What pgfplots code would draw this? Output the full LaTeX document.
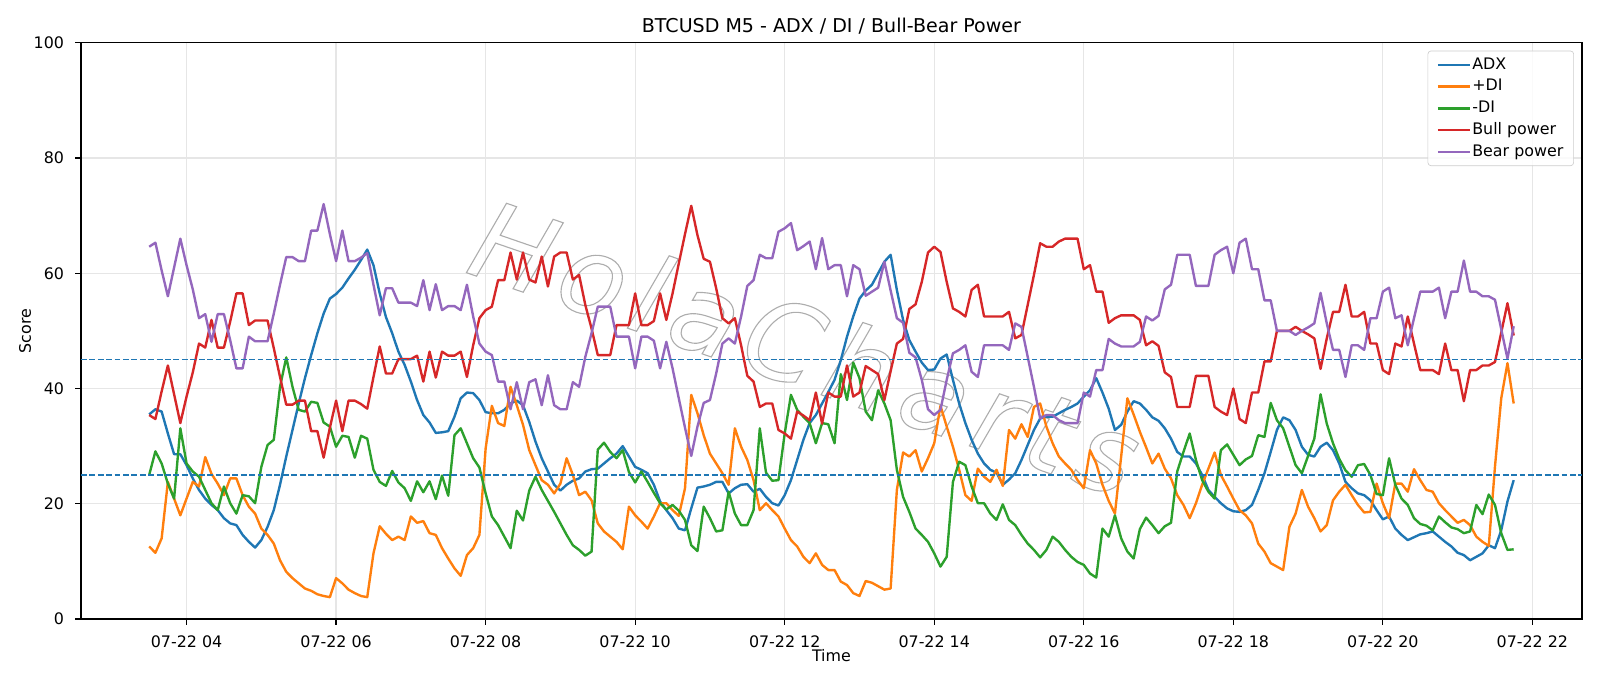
\documentclass[border=0pt]{standalone}
\usepackage{fontspec}
\setmainfont{DejaVu Sans}
\usepackage{pgfplots}
\usepackage{pgfplotstable}
\pgfplotsset{compat=1.18}

\definecolor{tabblue}{HTML}{1F77B4}
\definecolor{taborange}{HTML}{FF7F0E}
\definecolor{tabgreen}{HTML}{2CA02C}
\definecolor{tabred}{HTML}{D62728}
\definecolor{tabpurple}{HTML}{9467BD}
\definecolor{gridc}{HTML}{E6E6E6}

% outlined (stroked) glyphs for the watermark
\newcommand{\outlinetext}[1]{\special{pdf:literal direct 1 Tr 0.7 w}#1\special{pdf:literal direct 0 Tr}}

% 5-minute bars from 07-22 03:30 (index 0) to 21:45 (index 219)
\pgfplotstableread{
i adx pdi mdi bull bear
0 35.5 12.6 25.0 35.4 64.6
1 36.4 11.5 29.1 34.7 65.3
2 36.0 14.0 27.0 39.5 60.5
3 32.2 23.8 23.5 44.0 56.0
4 28.6 20.9 20.9 39.0 61.0
5 28.6 18.0 33.1 34.0 66.0
6 26.7 20.9 27.0 38.6 61.4
7 24.4 23.8 25.6 42.8 57.2
8 22.4 23.0 24.7 47.8 52.2
9 20.9 28.1 22.4 47.1 52.9
10 19.8 25.2 20.1 51.9 48.1
11 18.9 23.5 18.9 47.1 52.9
12 17.5 21.5 23.0 47.1 52.9
13 16.6 24.4 20.1 51.6 48.4
14 16.3 24.4 18.3 56.5 43.5
15 14.6 21.5 21.5 56.5 43.5
16 13.4 19.5 21.3 51.0 49.0
17 12.4 18.3 20.1 51.8 48.2
18 13.7 15.7 26.4 51.8 48.2
19 16.0 14.6 30.2 51.8 48.2
20 18.9 13.1 31.1 47.0 53.0
21 23.3 10.2 40.3 42.0 58.0
22 28.2 8.2 45.4 37.2 62.8
23 32.8 7.1 40.3 37.2 62.8
24 37.4 6.2 36.3 37.9 62.1
25 41.8 5.3 36.0 37.9 62.1
26 45.8 4.9 37.7 32.6 67.4
27 49.6 4.3 37.5 32.6 67.4
28 53.0 4.0 34.1 28.0 72.0
29 55.6 3.8 33.4 33.2 66.8
30 56.4 7.1 29.9 37.9 62.1
31 57.5 6.2 31.8 32.6 67.4
32 59.1 5.1 31.6 37.9 62.1
33 60.6 4.5 28.0 37.9 62.1
34 62.3 4.0 31.8 37.3 62.7
35 64.1 3.8 31.3 36.5 63.5
36 61.4 11.4 25.9 42.0 58.0
37 56.5 16.1 23.8 47.3 52.7
38 52.4 14.8 23.1 42.6 57.4
39 49.6 13.7 25.7 42.6 57.4
40 46.4 14.3 23.7 45.1 54.9
41 44.1 13.7 22.7 45.1 54.9
42 41.2 17.8 20.5 45.1 54.9
43 38.0 16.7 23.9 45.7 54.3
44 35.4 17.0 22.0 41.2 58.8
45 34.1 14.9 23.9 46.4 53.6
46 32.3 14.6 20.8 41.9 58.1
47 32.4 12.3 24.9 46.4 53.6
48 32.6 10.5 21.4 45.7 54.3
49 35.1 8.8 31.9 45.7 54.3
50 38.3 7.5 33.1 46.4 53.6
51 39.3 11.1 30.5 42.0 58.0
52 39.2 12.3 27.9 47.5 52.5
53 38.0 14.6 26.3 52.2 47.8
54 35.9 29.6 21.8 53.6 46.4
55 35.7 37.0 17.8 54.2 45.8
56 35.7 34.0 16.3 58.8 41.2
57 36.3 33.5 14.3 58.8 41.2
58 37.4 40.3 12.3 63.6 36.4
59 37.9 37.1 18.8 58.9 41.1
60 37.1 33.7 17.1 63.6 36.4
61 34.2 29.3 22.3 58.9 41.1
62 30.8 26.7 24.7 58.4 41.6
63 27.9 24.1 22.4 62.9 37.1
64 25.6 23.3 20.5 57.7 42.3
65 23.3 21.8 18.6 62.9 37.1
66 22.3 23.5 16.6 63.6 36.4
67 23.3 27.9 14.6 63.6 36.4
68 24.0 25.0 12.8 58.9 41.1
69 24.4 21.5 12.0 59.7 40.3
70 25.6 22.1 11.0 54.5 45.5
71 26.0 20.6 11.7 50.4 49.6
72 26.1 16.6 29.4 45.8 54.2
73 27.0 15.2 30.6 45.8 54.2
74 27.9 14.3 29.0 45.8 54.2
75 28.7 13.4 27.9 51.0 49.0
76 30.0 12.1 29.3 51.0 49.0
77 28.2 19.5 25.5 51.0 49.0
78 26.4 18.0 23.7 56.5 43.5
79 25.9 16.9 25.6 51.0 49.0
80 25.3 15.7 23.8 51.0 49.0
81 23.3 17.8 21.9 51.7 48.3
82 20.4 20.1 20.1 56.5 43.5
83 18.9 20.1 19.0 51.9 48.1
84 17.5 18.9 19.8 56.5 43.5
85 15.7 17.9 18.8 61.7 38.3
86 15.4 22.7 17.2 66.8 33.2
87 19.2 38.9 12.8 71.7 28.3
88 22.8 35.7 11.8 66.6 33.4
89 23.0 31.9 19.5 62.5 37.5
90 23.3 28.7 17.5 62.0 38.0
91 23.8 27.0 15.2 57.4 42.6
92 23.8 25.3 15.4 52.2 47.8
93 21.8 23.3 22.1 51.3 48.7
94 22.7 33.1 18.3 52.2 47.8
95 23.3 29.9 16.3 47.5 52.5
96 23.4 27.6 16.3 42.2 57.8
97 22.1 24.1 18.9 41.2 58.8
98 22.6 18.9 33.1 36.8 63.2
99 21.2 20.1 25.4 37.4 62.6
100 20.1 18.9 24.0 37.4 62.6
101 19.7 17.8 24.1 32.8 67.2
102 21.5 15.7 32.2 32.2 67.8
103 24.1 13.7 38.9 31.3 68.7
104 27.6 12.6 36.3 36.0 64.0
105 31.1 10.8 35.1 35.3 64.7
106 34.0 9.7 34.0 34.5 65.5
107 35.4 11.4 30.5 39.3 60.7
108 37.4 9.4 34.0 33.9 66.1
109 39.4 8.5 33.8 39.3 60.7
110 41.5 8.5 30.5 38.6 61.4
111 44.9 6.5 42.5 38.6 61.4
112 49.0 5.9 38.0 44.0 56.0
113 52.5 4.5 44.5 38.6 61.4
114 55.6 4.0 41.8 39.3 60.7
115 57.0 6.6 36.0 43.9 56.1
116 58.0 6.3 34.5 43.2 56.8
117 60.0 5.7 39.7 42.5 57.5
118 62.0 5.1 37.4 38.0 62.0
119 63.2 5.3 34.5 43.0 57.0
120 57.1 22.4 25.9 47.8 52.2
121 51.9 28.9 21.2 48.6 51.4
122 48.4 28.2 18.6 53.8 46.2
123 46.4 29.3 15.7 54.6 45.4
124 44.5 25.6 14.6 58.5 41.5
125 43.2 27.9 13.4 63.6 36.4
126 43.3 30.5 11.4 64.6 35.4
127 45.2 37.0 9.1 63.7 36.3
128 45.9 33.4 10.8 58.5 41.5
129 41.5 29.9 23.8 53.9 46.1
130 37.4 25.9 27.3 53.3 46.7
131 34.0 21.5 26.7 52.5 47.5
132 31.1 20.5 23.0 57.1 42.9
133 28.7 26.1 20.1 58.0 42.0
134 27.0 24.7 20.1 52.5 47.5
135 25.9 23.8 18.3 52.5 47.5
136 25.4 25.9 17.2 52.5 47.5
137 23.3 23.1 19.9 52.5 47.5
138 24.2 32.8 17.2 53.3 46.7
139 25.3 31.3 16.3 48.7 51.3
140 27.6 33.8 14.6 49.3 50.7
141 30.2 31.6 13.1 54.5 45.5
142 32.8 36.8 12.0 59.7 40.3
143 34.8 37.4 10.7 65.2 34.8
144 35.1 33.4 12.0 64.6 35.4
145 35.1 30.5 14.3 64.6 35.4
146 35.7 28.2 13.4 65.5 34.5
147 36.3 27.0 12.0 66.0 34.0
148 36.8 25.9 10.8 66.0 34.0
149 37.4 24.1 9.9 66.0 34.0
150 38.6 22.7 9.4 60.7 39.3
151 39.7 29.3 7.9 61.4 38.6
152 41.8 27.0 7.2 56.8 43.2
153 39.3 23.3 15.7 56.8 43.2
154 36.5 20.5 14.3 51.4 48.6
155 32.8 18.3 18.0 52.2 47.8
156 33.7 28.2 14.0 52.7 47.3
157 36.0 38.3 11.7 52.7 47.3
158 37.8 35.5 10.5 52.7 47.3
159 37.4 32.5 15.6 51.9 48.1
160 36.3 29.8 17.6 47.5 52.5
161 35.0 27.0 16.3 48.2 51.8
162 34.4 28.7 14.9 47.4 52.6
163 33.1 26.1 16.1 42.8 57.2
164 31.3 24.4 16.7 42.0 58.0
165 29.0 21.5 25.6 36.8 63.2
166 28.2 19.8 29.0 36.8 63.2
167 28.2 17.5 32.2 36.8 63.2
168 27.0 20.1 27.6 42.2 57.8
169 25.0 23.3 24.1 42.2 57.8
170 22.4 26.1 22.1 42.2 57.8
171 21.2 28.9 20.9 36.8 63.2
172 20.1 25.0 29.3 36.0 64.0
173 19.2 23.0 30.3 35.4 64.6
174 18.7 20.9 28.5 40.0 60.0
175 18.6 18.9 26.7 34.7 65.3
176 18.9 18.0 27.7 34.0 66.0
177 19.8 16.6 28.3 39.3 60.7
178 22.4 13.1 31.9 39.3 60.7
179 25.3 11.7 31.6 44.7 55.3
180 29.0 9.7 37.5 44.7 55.3
181 32.8 9.1 34.5 50.0 50.0
182 35.0 8.5 33.1 50.0 50.0
183 34.5 16.0 29.9 50.0 50.0
184 32.8 18.3 26.7 50.7 49.3
185 29.9 22.4 25.3 50.0 50.0
186 28.5 19.5 28.3 49.4 50.6
187 28.2 17.5 31.3 48.7 51.3
188 29.9 15.2 39.0 43.4 56.6
189 30.6 16.3 33.9 48.7 51.3
190 29.3 20.6 30.5 53.3 46.7
191 27.0 22.1 27.8 53.3 46.7
192 23.8 23.3 25.8 58.0 42.0
193 22.7 21.5 24.7 52.5 47.5
194 21.8 19.8 26.7 52.5 47.5
195 21.5 18.5 26.9 53.3 46.7
196 20.6 18.6 25.0 47.8 52.2
197 18.9 23.5 21.7 47.8 52.2
198 17.3 20.1 21.5 43.2 56.8
199 17.8 17.5 27.9 42.5 57.5
200 15.7 23.5 23.3 47.8 52.2
201 14.6 23.5 20.9 47.3 52.7
202 13.7 22.1 19.8 52.5 47.5
203 14.2 26.0 17.5 47.8 52.2
204 14.7 24.1 16.5 43.2 56.8
205 14.9 22.4 16.2 43.2 56.8
206 15.2 22.1 15.4 43.2 56.8
207 14.3 20.1 17.8 42.5 57.5
208 13.4 18.9 16.8 47.8 52.2
209 12.6 17.8 15.9 43.2 56.8
210 11.5 16.7 15.6 43.2 56.8
211 11.1 17.2 14.9 37.8 62.2
212 10.2 16.3 15.2 43.2 56.8
213 10.8 14.3 19.8 43.2 56.8
214 11.4 13.4 18.2 44.0 56.0
215 12.8 12.7 21.6 44.0 56.0
216 12.3 26.5 19.8 44.6 55.4
217 15.4 38.3 14.9 49.7 50.3
218 20.4 44.4 12.0 54.8 45.2
219 24.1 37.4 12.1 49.2 50.8
}\ind

\begin{document}
\begin{tikzpicture}
\path[use as bounding box] (-51pt,-42.2pt) rectangle (957pt,390pt);
\begin{axis}[
  at={(0pt,0pt)}, anchor=south west,
  scale only axis,
  width=945.6pt, height=363.1pt,
  xmin=-10.95, xmax=229.95,
  ymin=0, ymax=100,
  xtick={6,30,54,78,102,126,150,174,198,222},
  xticklabels={07-22 04,07-22 06,07-22 08,07-22 10,07-22 12,07-22 14,07-22 16,07-22 18,07-22 20,07-22 22},
  ytick={0,20,40,60,80,100},
  /pgf/number format/assume math mode=true,
  tick align=outside, tickpos=left,
  major tick length=3.5pt,
  every tick/.style={black, line width=0.8pt},
  axis line style={black, line width=0.8pt},
  grid=major,
  major grid style={gridc, line width=0.8pt},
  xticklabel style={font=\fontsize{10}{12}\selectfont, anchor=north, inner sep=0pt, yshift=-7pt},
  yticklabel style={font=\fontsize{10}{12}\selectfont, anchor=east, inner sep=0pt, xshift=-7pt},
  title={BTCUSD M5 - ADX / DI / Bull-Bear Power},
  every axis title shift=0pt,
  title style={at={(axis description cs:0.5,1)}, anchor=base, inner sep=0pt, yshift=6.4pt, font=\fontsize{12}{14}\selectfont},
  xlabel={Time},
  xlabel style={at={([yshift=-26.9pt]axis description cs:0.5,0)}, anchor=base, inner sep=0pt, font=\fontsize{10}{12}\selectfont},
  ylabel={Score},
  ylabel style={at={([xshift=-31.6pt]axis description cs:0,0.5)}, rotate=0, anchor=base, inner sep=0pt, font=\fontsize{10}{12}\selectfont},
  legend cell align=left,
  legend style={at={(1,1)}, anchor=north east, xshift=-5pt, yshift=-5pt,
    draw=black!20, rounded corners=2pt, fill=white, fill opacity=0.8, text opacity=1, draw opacity=1,
    inner xsep=5.5pt, inner ysep=3pt, row sep=2.2pt,
    nodes={inner sep=1pt, text height=7.5pt, text depth=2pt, font=\fontsize{10}{12}\selectfont}},
  legend image code/.code={\draw[#1, line width=1.5pt] (0pt,0pt) -- (20pt,0pt);},
  every axis plot/.append style={line width=1.5pt, line join=round},
]
% watermark, drawn as grey outlined lettering
\node[rotate=-19, text=black!32, font=\fontsize{68}{68}\selectfont\itshape] at (axis cs:105.4,47.2)
  {\outlinetext{H\kern7pt o\kern7pt l\kern7pt a\kern7pt C\kern7pt h\kern7pt a\kern7pt r\kern7pt t\kern7pt s}};
\addplot[tabblue] table[x=i, y=adx] {\ind};
\addlegendentry{ADX}
\addplot[taborange] table[x=i, y=pdi] {\ind};
\addlegendentry{+DI}
\addplot[tabgreen] table[x=i, y=mdi] {\ind};
\addlegendentry{-DI}
\addplot[tabred] table[x=i, y=bull] {\ind};
\addlegendentry{Bull power}
\addplot[tabpurple] table[x=i, y=bear] {\ind};
\addlegendentry{Bear power}
% threshold levels
\addplot[tabblue, line width=1pt, dash pattern=on 3.7pt off 1.6pt, forget plot] coordinates {(-10.95,45) (229.95,45)};
\addplot[tabblue, line width=1pt, dash pattern=on 3.7pt off 1.6pt, forget plot] coordinates {(-10.95,25) (229.95,25)};
\end{axis}
\end{tikzpicture}
\end{document}
